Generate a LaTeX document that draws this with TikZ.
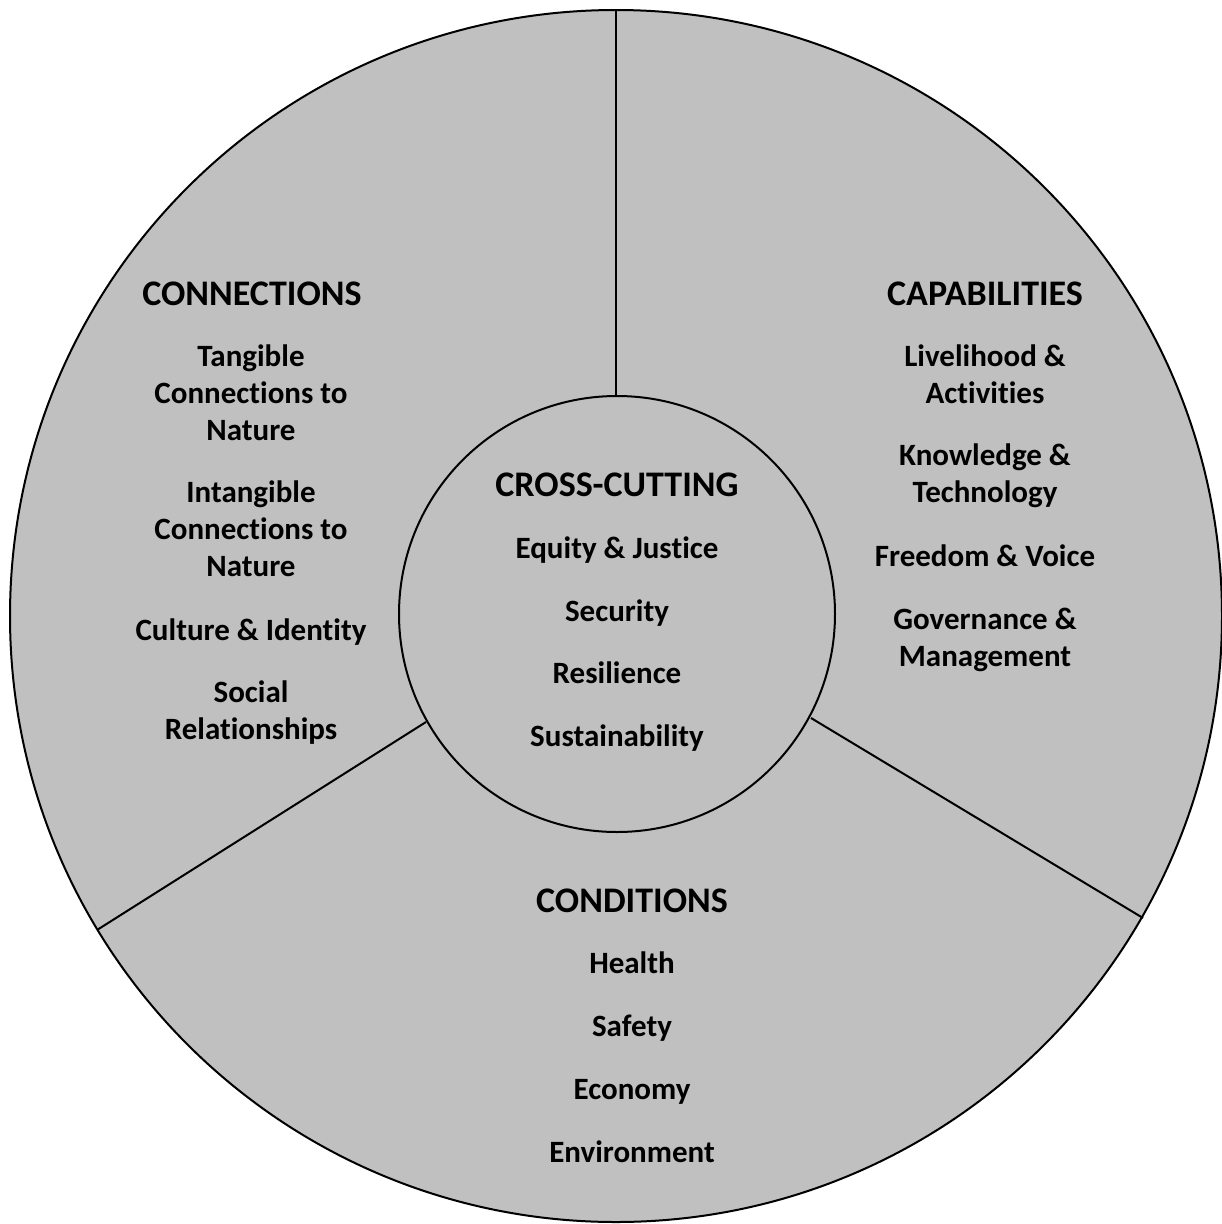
\documentclass[tikz,border=0pt]{standalone}
\usepackage{fontspec}
\setmainfont{Carlito}[Ligatures=NoCommon]
\usetikzlibrary{calc}
\definecolor{wheelgray}{RGB}{192,192,192}
\begin{document}
\begin{tikzpicture}[x=1pt,y=-1pt,
  ring/.style={draw=black,line width=2pt,fill=wheelgray},
  divider/.style={draw=black,line width=2pt},
  heading/.style={font=\fontsize{36}{43}\selectfont\bfseries,anchor=base,inner sep=0pt},
  item/.style={font=\fontsize{31}{37}\selectfont\bfseries,anchor=base,align=center,inner sep=0pt}]
\useasboundingbox (0,0) rectangle (1222,1224);
\coordinate (c) at (616,616);
\coordinate (ci) at (617,614);
\draw[ring] (c) circle[radius=606];
\draw[ring] (ci) circle[radius=218];
\coordinate (top) at ($(c)+(0,-606)$);
\coordinate (itop) at ($(ci)+(-1,-218)$);
\coordinate (ileft) at (426,722);
\coordinate (oleft) at (97,930);
\coordinate (iright) at (811,718);
\coordinate (oright) at (1143,918);
\draw[divider] (itop) -- (top);
\draw[divider] (ileft) -- (oleft);
\draw[divider] (iright) -- (oright);
% CONNECTIONS (multi-line nodes: base = last line)
\node[heading] (hcon) at (252,305) {CONNECTIONS};
\node[item] (con1) at (251,440) {Tangible\\Connections to\\Nature};
\node[item] (con2) at (251,576) {Intangible\\Connections to\\Nature};
\node[item] (con3) at (251,640) {Culture \& Identity};
\node[item] (con4) at (251,739) {Social\\Relationships};
% CAPABILITIES
\node[heading] (hcap) at (985,305) {CAPABILITIES};
\node[item] (cap1) at (985,403) {Livelihood \&\\Activities};
\node[item] (cap2) at (985,502) {Knowledge \&\\Technology};
\node[item] (cap3) at (985,566) {Freedom \& Voice};
\node[item] (cap4) at (985,666) {Governance \&\\Management};
% CROSS-CUTTING
\node[heading] (hcc) at (617,496) {CROSS-CUTTING};
\node[item] (cc1) at (617,558) {Equity \& Justice};
\node[item] (cc2) at (617,621) {Security};
\node[item] (cc3) at (617,683) {Resilience};
\node[item] (cc4) at (617,746) {Sustainability};
% CONDITIONS
\node[heading] (hcond) at (632,912) {CONDITIONS};
\node[item] (cd1) at (632,973) {Health};
\node[item] (cd2) at (632,1036) {Safety};
\node[item] (cd3) at (632,1099) {Economy};
\node[item] (cd4) at (632,1162) {Environment};
\end{tikzpicture}
\end{document}
